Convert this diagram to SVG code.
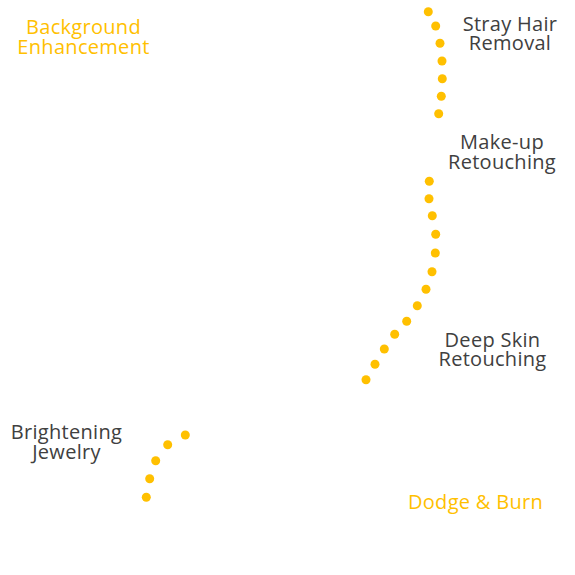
<svg xmlns="http://www.w3.org/2000/svg" width="575" height="575" viewBox="0 0 575 575">
<style>
.lbl{font-family:"Open Sans","Noto Sans",sans-serif;font-size:20px;letter-spacing:0.3px;text-anchor:middle}
.dark{fill:#404040}
.hi{fill:#FFC000}
.dot{fill:#FFC000}
</style>
<rect width="575" height="575" fill="#ffffff"/>
<g id="connectors">
<g id="path-stray">
<circle class="dot" cx="428.3" cy="11.7" r="4.5"/>
<circle class="dot" cx="435.7" cy="26" r="4.5"/>
<circle class="dot" cx="440" cy="43.3" r="4.5"/>
<circle class="dot" cx="442" cy="61" r="4.5"/>
<circle class="dot" cx="442.3" cy="78.7" r="4.5"/>
<circle class="dot" cx="441.3" cy="96.3" r="4.5"/>
<circle class="dot" cx="438.7" cy="113.7" r="4.5"/>
</g>
<g id="path-makeup">
<circle class="dot" cx="429.3" cy="181.3" r="4.5"/>
<circle class="dot" cx="429" cy="198.7" r="4.5"/>
<circle class="dot" cx="432.3" cy="215.7" r="4.5"/>
<circle class="dot" cx="435.7" cy="234.3" r="4.5"/>
<circle class="dot" cx="435.3" cy="253" r="4.5"/>
<circle class="dot" cx="432" cy="271.7" r="4.5"/>
<circle class="dot" cx="426" cy="289.3" r="4.5"/>
<circle class="dot" cx="417.3" cy="305.7" r="4.5"/>
<circle class="dot" cx="406.7" cy="321.3" r="4.5"/>
<circle class="dot" cx="394.7" cy="334.3" r="4.5"/>
<circle class="dot" cx="384.3" cy="349" r="4.5"/>
<circle class="dot" cx="375" cy="364.3" r="4.5"/>
<circle class="dot" cx="366" cy="379.7" r="4.5"/>
</g>
<g id="path-jewelry">
<circle class="dot" cx="185.3" cy="435" r="4.5"/>
<circle class="dot" cx="167.7" cy="444.7" r="4.5"/>
<circle class="dot" cx="155.7" cy="460.7" r="4.5"/>
<circle class="dot" cx="149.7" cy="478.7" r="4.5"/>
<circle class="dot" cx="146.3" cy="497.3" r="4.5"/>
</g>
</g>
<g id="node-background">
<text class="lbl hi" x="83.5" y="34"><tspan x="83.5">Background</tspan><tspan x="83.5" dy="19.5">Enhancement</tspan></text>
</g>
<g id="node-stray">
<text class="lbl dark" x="510" y="30.5"><tspan x="510">Stray Hair</tspan><tspan x="510" dy="19">Removal</tspan></text>
</g>
<g id="node-makeup">
<text class="lbl dark" x="502" y="149.3"><tspan x="502">Make-up</tspan><tspan x="502" dy="19.2">Retouching</tspan></text>
</g>
<g id="node-deepskin">
<text class="lbl dark" x="492.5" y="346.7"><tspan x="492.5">Deep Skin</tspan><tspan x="492.5" dy="19.3">Retouching</tspan></text>
</g>
<g id="node-jewelry">
<text class="lbl dark" x="66.5" y="439.3"><tspan x="66.5">Brightening</tspan><tspan x="66.5" dy="20">Jewelry</tspan></text>
</g>
<g id="node-dodge">
<text class="lbl hi" x="475.5" y="509">Dodge &amp; Burn</text>
</g>
</svg>
